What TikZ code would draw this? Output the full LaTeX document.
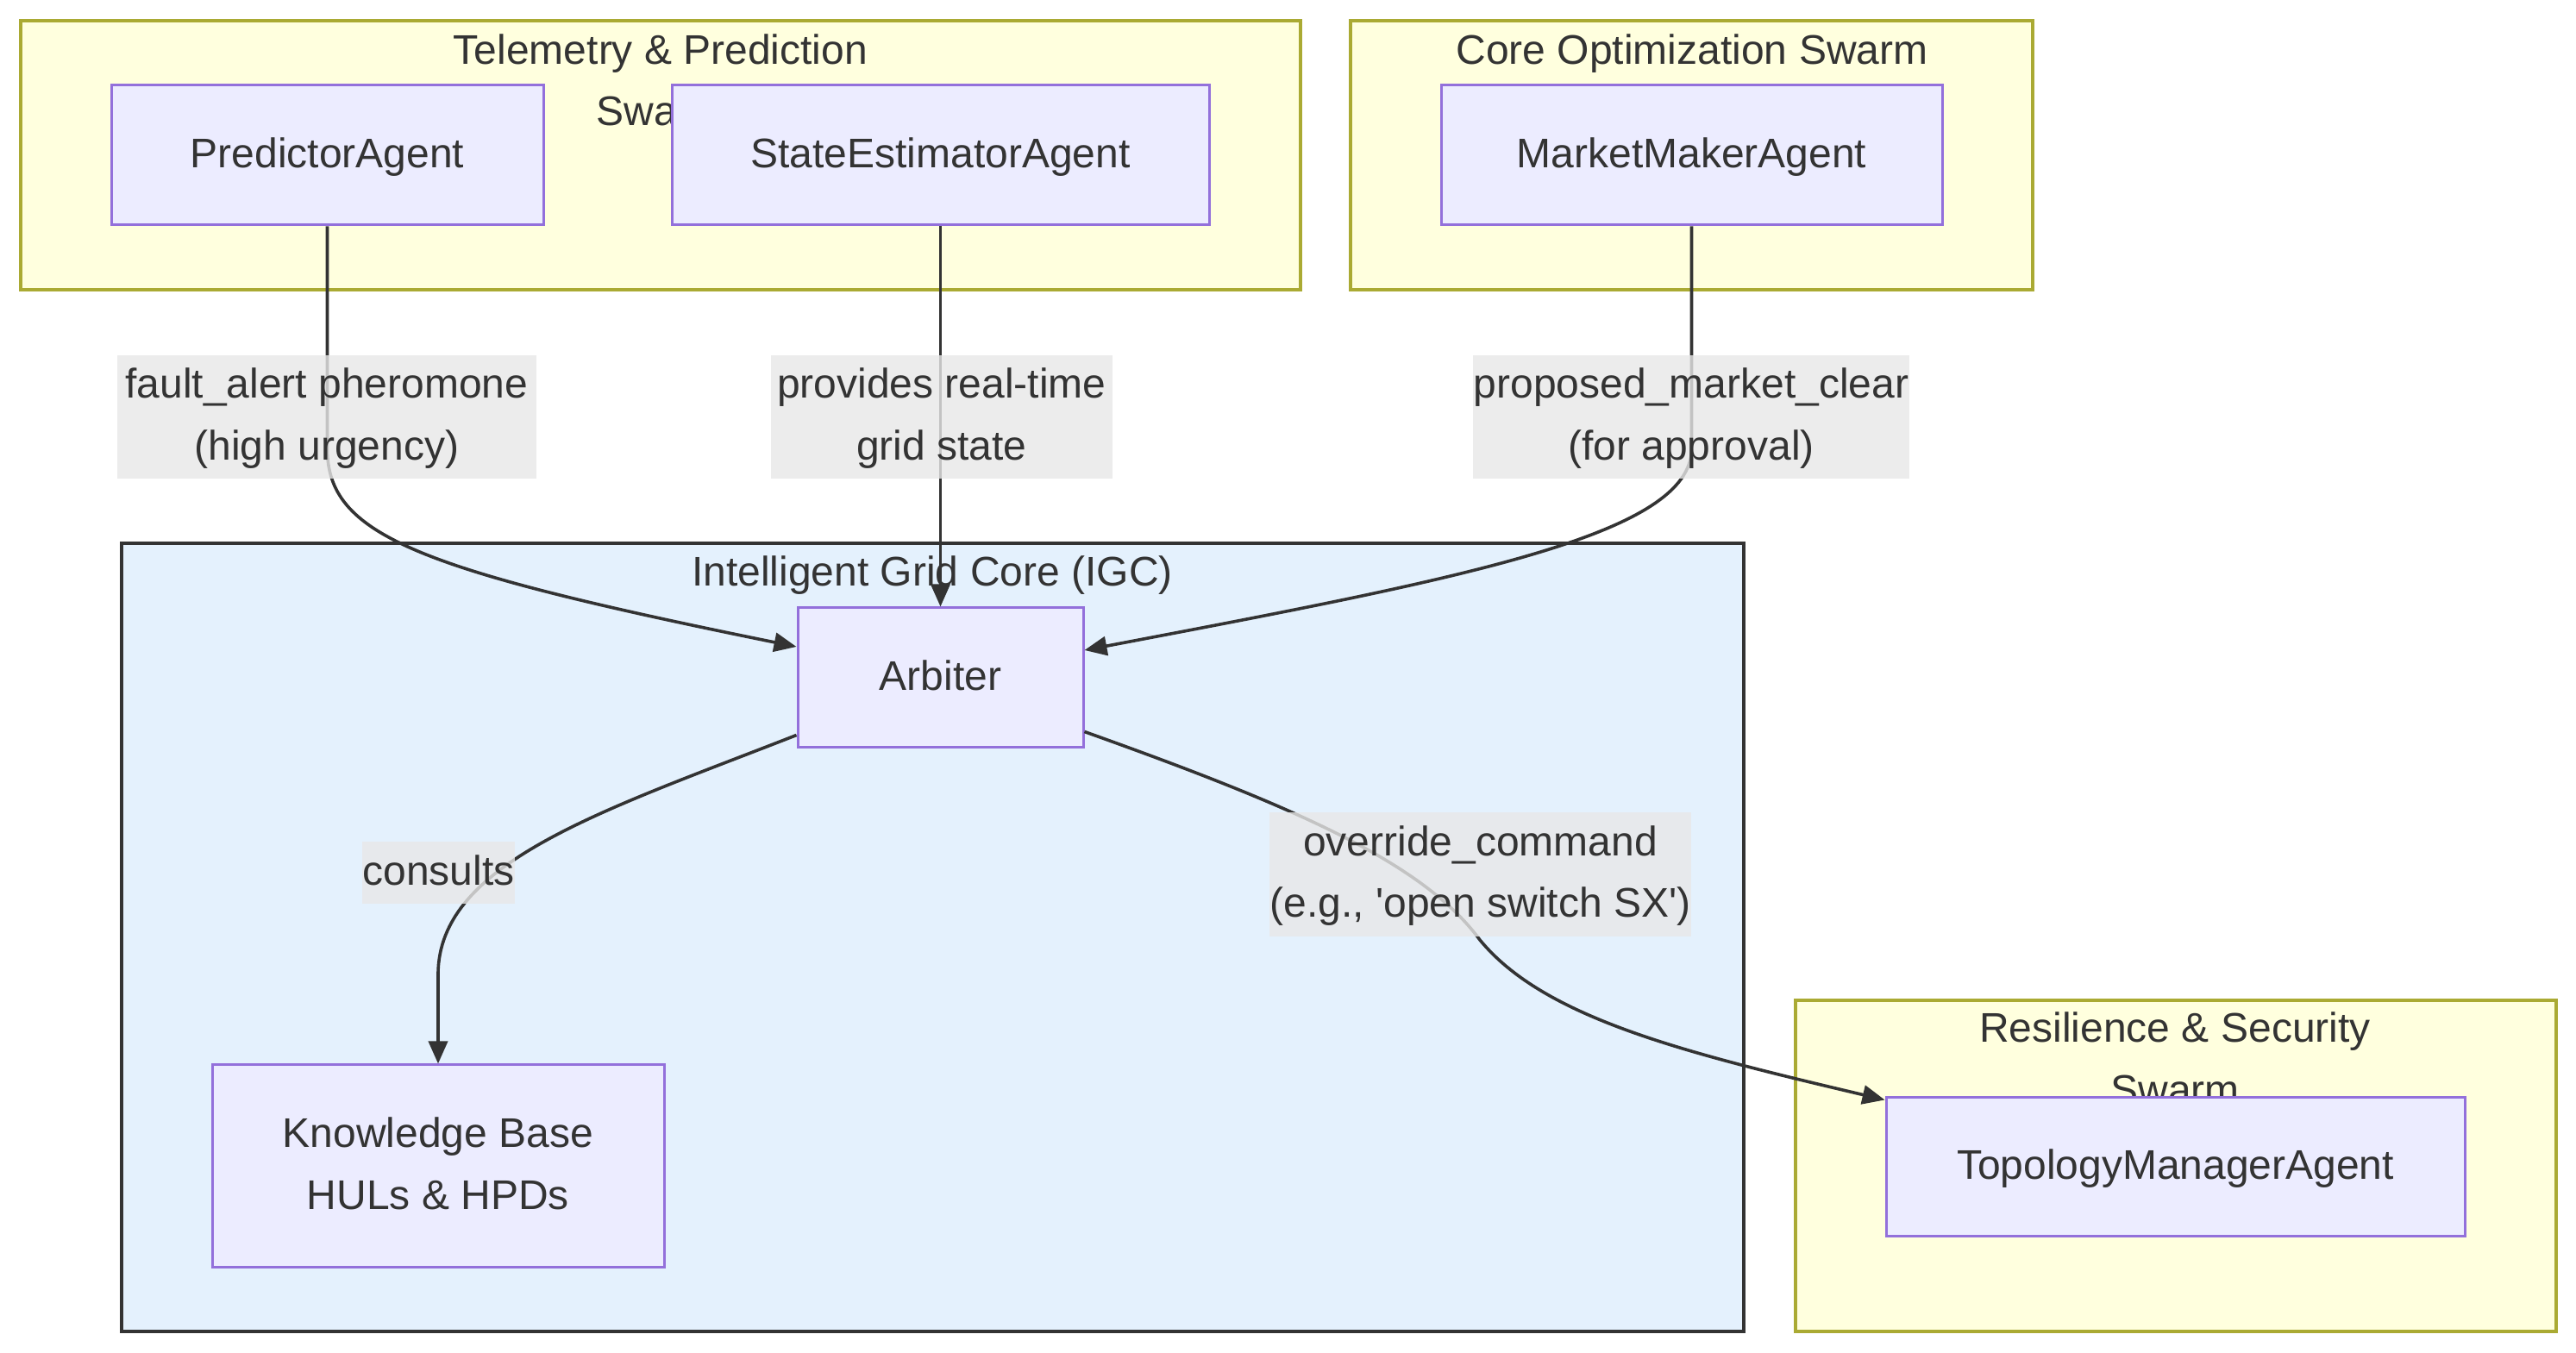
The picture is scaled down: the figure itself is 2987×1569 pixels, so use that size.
\documentclass[tikz,border=0pt]{standalone}
\usepackage{fontspec}
\setmainfont{Liberation Sans}
\usetikzlibrary{arrows.meta,calc}
\definecolor{clfill}{HTML}{FFFFDE}
\definecolor{cldraw}{HTML}{AAAA33}
\definecolor{ndfill}{HTML}{ECECFF}
\definecolor{nddraw}{HTML}{9370DB}
\definecolor{igcfill}{HTML}{E4F1FD}
\definecolor{igcdraw}{HTML}{333333}
\definecolor{txt}{HTML}{333333}
\definecolor{lbl}{HTML}{E8E8E8}
\newcommand\lstrut{\rule[-5.4pt]{0pt}{17.9pt}}
\begin{document}
\begin{tikzpicture}[x=0.25pt,y=-0.25pt,
  font=\fontsize{12pt}{17.9pt}\selectfont, text=txt,
  cluster/.style={draw=cldraw, fill=clfill, line width=1pt},
  igc/.style={draw=igcdraw, fill=igcfill, line width=1pt},
  agent/.style={draw=nddraw, fill=ndfill, line width=0.75pt, inner sep=0pt, minimum height=40.5pt, align=center},
  ctitle/.style={anchor=base, inner sep=0pt},
  elabel/.style={fill=lbl, fill opacity=0.8, text opacity=1, inner sep=0pt, align=center},
  edge/.style={draw=txt, line width=0.9pt, -{Triangle[length=6.5pt,width=5.5pt]}},
]
\useasboundingbox (0,0) rectangle (2987,1569);
\fill[white] (0,0) rectangle (2987,1569);

% clusters
\path[cluster] (24,24) rectangle (1508,336);
\path[cluster] (1566,24) rectangle (2357,336);
\path[igc] (141,630) rectangle (2022,1544);
\path[cluster] (2082,1160) rectangle (2964,1544);

% cluster titles
\node[ctitle] (t1a) at (766,75) {Telemetry \& Prediction};
\node[ctitle] (t1b) at (766,146) {Swarm};
\node[ctitle] (t2) at (1962,75) {Core Optimization Swarm};
\node[ctitle] (t3) at (1081,680) {Intelligent Grid Core (IGC)};
\node[ctitle] (t4a) at (2522,1209) {Resilience \& Security};
\node[ctitle] (t4b) at (2522,1281) {Swarm};

% nodes
\node[agent, minimum width=125.25pt] (pred) at (379.5,180) {\lstrut PredictorAgent};
\node[agent, minimum width=155.75pt] (sea) at (1090.5,180) {\lstrut StateEstimatorAgent};
\node[agent, minimum width=145.25pt] (mma) at (1961.5,180) {\lstrut MarketMakerAgent};
\node[agent, minimum width=82.75pt] (arb) at (1090.5,786) {\lstrut Arbiter};
\node[agent, minimum width=131pt, minimum height=58.75pt] (kb) at (508,1352.5) {\lstrut Knowledge Base\\\lstrut HULs \& HPDs};
\node[agent, minimum width=167.75pt, minimum height=40.25pt] (tma) at (2522.5,1353.5) {\lstrut TopologyManagerAgent};

% edges
\draw[edge] (pred.south) -- (379.5,520) .. controls (379.5,620) and (480,660) .. ([yshift=9pt]arb.west);
\draw[edge] (sea.south) -- (arb.north);
\draw[edge] (mma.south) -- (1961.5,520) .. controls (1961.5,620) and (1700,670) .. ([yshift=8pt]arb.east);
\draw[edge] ([yshift=4pt]arb.south west) .. controls (700,940) and (508,1000) .. (508,1130) -- (kb.north);
\draw[edge] ([yshift=5pt]arb.south east) .. controls (1500,935) and (1650,1000) .. (1716,1090) .. controls (1790,1180) and (1950,1220) .. ([yshift=-1pt]tma.north west);

% edge labels
\node[elabel, minimum width=121.5pt, minimum height=35.75pt] (l1) at (379,483.5) {\lstrut fault\_alert pheromone\\\lstrut (high urgency)};
\node[elabel, minimum width=99pt, minimum height=35.75pt] (l2) at (1092,483.5) {\lstrut provides real-time\\\lstrut grid state};
\node[elabel, minimum width=126.5pt, minimum height=35.75pt] (l3) at (1961,483.5) {\lstrut proposed\_market\_clear\\\lstrut (for approval)};
\node[elabel, minimum width=43.75pt, minimum height=17.75pt] (l4) at (508.5,1012) {\lstrut consults};
\node[elabel, minimum width=122.25pt, minimum height=35.5pt] (l5) at (1716.5,1014) {\lstrut override\_command\\\lstrut (e.g., \textquotesingle open switch SX\textquotesingle)};
\end{tikzpicture}
\end{document}
